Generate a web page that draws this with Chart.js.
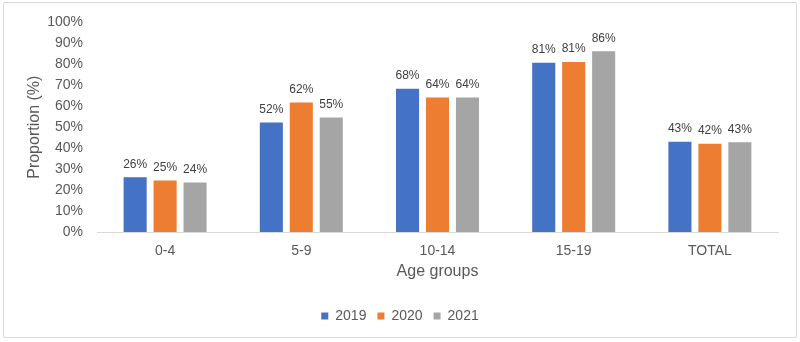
<!DOCTYPE html>
<html>
<head>
<meta charset="utf-8">
<script src="https://cdn.jsdelivr.net/npm/chart.js@4"></script>
<style>
  html, body { margin: 0; padding: 0; background: #fff; }
  #wrap { position: relative; width: 800px; height: 342px; }
  #frame { position: absolute; left: 3px; top: 2px; width: 792px; height: 334px; border: 1px solid #d9d9d9; border-radius: 2px; pointer-events: none; }
  canvas { position: absolute; left: 0; top: 0; }
</style>
</head>
<body>
<div id="wrap">
  <canvas id="c" width="800" height="342"></canvas>
  <div id="frame"></div>
</div>
<script>
const categories = ["0-4", "5-9", "10-14", "15-19", "TOTAL"];
const years = ["2019", "2020", "2021"];
const values2019 = [26.1, 52.3, 68.3, 80.7, 43.1];
const values2020 = [24.6, 61.8, 64.2, 81.1, 42.1];
const values2021 = [23.6, 54.6, 64.2, 86.2, 42.8];
const yTicks = [0, 10, 20, 30, 40, 50, 60, 70, 80, 90, 100];
const colors = ["#4472C4", "#ED7D31", "#A5A5A5"];
const FONT = "'Liberation Sans', Arial, sans-serif";

const labelPlugin = {
  id: 'valueLabels',
  afterDatasetsDraw(chart) {
    const ctx = chart.ctx;
    ctx.save();
    ctx.font = "12px " + FONT;
    ctx.fillStyle = "#404040";
    ctx.textAlign = "center";
    ctx.textBaseline = "bottom";
    chart.data.datasets.forEach((ds, i) => {
      const meta = chart.getDatasetMeta(i);
      meta.data.forEach((bar, j) => {
        ctx.fillText(Math.round(ds.data[j]) + "%", bar.x, bar.y - 7);
      });
    });
    ctx.restore();
  }
};

new Chart(document.getElementById('c'), {
  type: 'bar',
  data: {
    labels: categories,
    datasets: [
      { label: years[0], data: values2019, backgroundColor: colors[0] },
      { label: years[1], data: values2020, backgroundColor: colors[1] },
      { label: years[2], data: values2021, backgroundColor: colors[2] }
    ]
  },
  options: {
    responsive: false,
    animation: false,
    devicePixelRatio: 1,
    layout: { padding: { left: 0, right: 0, top: 20, bottom: 9 } },
    datasets: { bar: { categoryPercentage: 0.66, barPercentage: 0.77 } },
    plugins: {
      tooltip: { enabled: false },
      legend: {
        position: 'bottom',
        labels: {
          font: { family: FONT, size: 14 },
          color: '#595959',
          boxWidth: 7,
          boxHeight: 7,
          padding: 11
        }
      }
    },
    scales: {
      x: {
        grid: { display: false, drawTicks: false },
        border: { display: true, color: '#d9d9d9', width: 1 },
        ticks: { font: { family: FONT, size: 14 }, color: '#595959', padding: 11 },
        title: { display: true, text: 'Age groups', font: { family: FONT, size: 16 }, color: '#595959', padding: { top: 0, bottom: 17 } },
        afterFit(scale) { scale.height = 66; }
      },
      y: {
        min: 0, max: 100,
        afterBuildTicks(scale) { scale.ticks = yTicks.map(v => ({ value: v })); },
        grid: { display: false, drawTicks: false },
        border: { display: false },
        ticks: { font: { family: FONT, size: 14 }, color: '#595959', padding: 14, callback: v => v + '%' },
        title: { display: true, text: 'Proportion (%)', font: { family: FONT, size: 16 }, color: '#595959', padding: { top: 25, bottom: 0 } },
        afterFit(scale) { scale.width = 97; }
      },
      yRight: {
        position: 'right',
        min: 0, max: 100,
        grid: { display: false, drawTicks: false },
        border: { display: false },
        ticks: { display: false },
        afterFit(scale) { scale.width = 22; }
      }
    }
  },
  plugins: [labelPlugin]
});
</script>
</body>
</html>
